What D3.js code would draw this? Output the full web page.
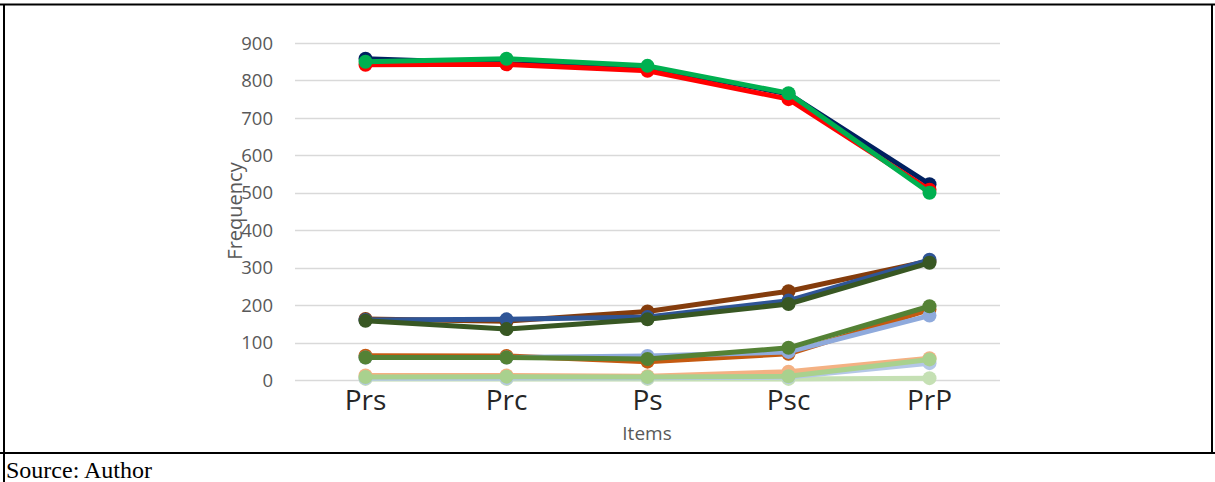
<!DOCTYPE html>
<html>
<head>
<meta charset="utf-8">
<script src="https://cdn.jsdelivr.net/npm/d3@7"></script>
<style>
  html, body { margin: 0; padding: 0; background: #fff; }
  svg { display: block; }
</style>
</head>
<body>
<div id="chart"></div>
<script>
// categories on the x axis
const items = ["Prs", "Prc", "Ps", "Psc", "PrP"];
const yTicks = [0, 100, 200, 300, 400, 500, 600, 700, 800, 900];

// series values (drawing order: bottom to top)
const navySeries = [858, 845, 836, 764, 523];
const redSeries = [842, 843, 826, 750, 508];
const greenSeries = [850, 858, 839, 766, 500];

const brownSeries = [163, 157, 183, 237, 318];
const blueSeries = [160, 162, 168, 212, 321];
const darkGreenSeries = [158, 136, 162, 203, 313];

const orangeSeries = [65, 64, 49, 70, 188];
const lightBlueSeries = [60, 60, 64, 75, 172];
const midGreenSeries = [60, 60, 56, 86, 197];

const lightOrangeSeries = [12, 12, 10, 22, 58];
const paleBlueSeries = [5, 5, 6, 8, 45];
const lightGreenSeries = [8, 9, 8, 10, 55];
const paleGreenSeries = [3, 3, 3, 3, 5];

const series = [
    { values: paleGreenSeries, color: "#C5E0B4" },
    { values: paleBlueSeries, color: "#B4C7E7" },
    { values: lightOrangeSeries, color: "#F4B183" },
    { values: lightGreenSeries, color: "#A9D18E" },
    { values: orangeSeries, color: "#C55A11" },
    { values: lightBlueSeries, color: "#8FAADC" },
    { values: midGreenSeries, color: "#548235" },
    { values: brownSeries, color: "#843C0C" },
    { values: blueSeries, color: "#2F5597" },
    { values: darkGreenSeries, color: "#385723" },
    { values: navySeries, color: "#002060" },
    { values: redSeries, color: "#FF0000" },
    { values: greenSeries, color: "#00B050" },
];

const W = 1215, H = 482;
const plot = { left: 295, right: 1000, top: 43, bottom: 380 };

const svg = d3.select("#chart").append("svg")
    .attr("width", W)
    .attr("height", H);

svg.append("rect").attr("width", W).attr("height", H).attr("fill", "#fff");

// table frame round the figure
const frame = svg.append("g").attr("stroke", "#000").attr("stroke-width", 2);
frame.append("line").attr("x1", 0).attr("x2", W).attr("y1", 4.5).attr("y2", 4.5);
frame.append("line").attr("x1", 0).attr("x2", W).attr("y1", 453).attr("y2", 453);
frame.append("line").attr("x1", 4).attr("x2", 4).attr("y1", 4).attr("y2", H);
frame.append("line").attr("x1", 1212).attr("x2", 1212).attr("y1", 4).attr("y2", 454);

svg.append("text")
    .attr("x", 6)
    .attr("y", 478)
    .attr("font-family", "'Liberation Serif', 'Times New Roman', serif")
    .attr("font-size", 24)
    .attr("fill", "#000")
    .text("Source: Author");

const x = d3.scaleBand()
    .domain(items)
    .range([plot.left, plot.right]);

const y = d3.scaleLinear()
    .domain([0, 900])
    .range([plot.bottom, plot.top]);

// gridlines
svg.append("g")
    .selectAll("line")
    .data(yTicks)
    .join("line")
    .attr("x1", plot.left)
    .attr("x2", plot.right)
    .attr("y1", d => Math.round(y(d)) + 0.5)
    .attr("y2", d => Math.round(y(d)) + 0.5)
    .attr("stroke", "#D9D9D9")
    .attr("stroke-width", 1.3);

// y tick labels
svg.append("g")
    .selectAll("text")
    .data(yTicks)
    .join("text")
    .attr("x", 273)
    .attr("y", d => y(d))
    .attr("dy", "0.36em")
    .attr("text-anchor", "end")
    .attr("font-family", "'Open Sans', sans-serif")
    .attr("font-size", 18.5)
    .attr("fill", "#595959")
    .text(d => d);

// x tick labels
svg.append("g")
    .selectAll("text")
    .data(items)
    .join("text")
    .attr("x", d => x(d) + x.bandwidth() / 2)
    .attr("y", 410)
    .attr("text-anchor", "middle")
    .attr("font-family", "'Open Sans', sans-serif")
    .attr("font-size", 28)
    .attr("fill", "#262626")
    .text(d => d);

// axis titles
svg.append("text")
    .attr("x", 647)
    .attr("y", 440)
    .attr("text-anchor", "middle")
    .attr("font-family", "'Open Sans', sans-serif")
    .attr("font-size", 19)
    .attr("fill", "#595959")
    .text("Items");

svg.append("text")
    .attr("transform", "translate(242,211) rotate(-90)")
    .attr("text-anchor", "middle")
    .attr("font-family", "'Open Sans', sans-serif")
    .attr("font-size", 20)
    .attr("fill", "#595959")
    .text("Frequency");

const line = d3.line()
    .x((d, i) => x(items[i]) + x.bandwidth() / 2)
    .y(d => y(d));

const layer = svg.append("g");
series.forEach(s => {
    const g = layer.append("g");
    g.append("path")
        .attr("d", line(s.values))
        .attr("fill", "none")
        .attr("stroke", s.color)
        .attr("stroke-width", 5)
        .attr("stroke-linejoin", "round")
        .attr("stroke-linecap", "round");
    g.selectAll("circle")
        .data(s.values)
        .join("circle")
        .attr("cx", (d, i) => x(items[i]) + x.bandwidth() / 2)
        .attr("cy", d => y(d))
        .attr("r", 7)
        .attr("fill", s.color);
});
</script>
</body>
</html>
